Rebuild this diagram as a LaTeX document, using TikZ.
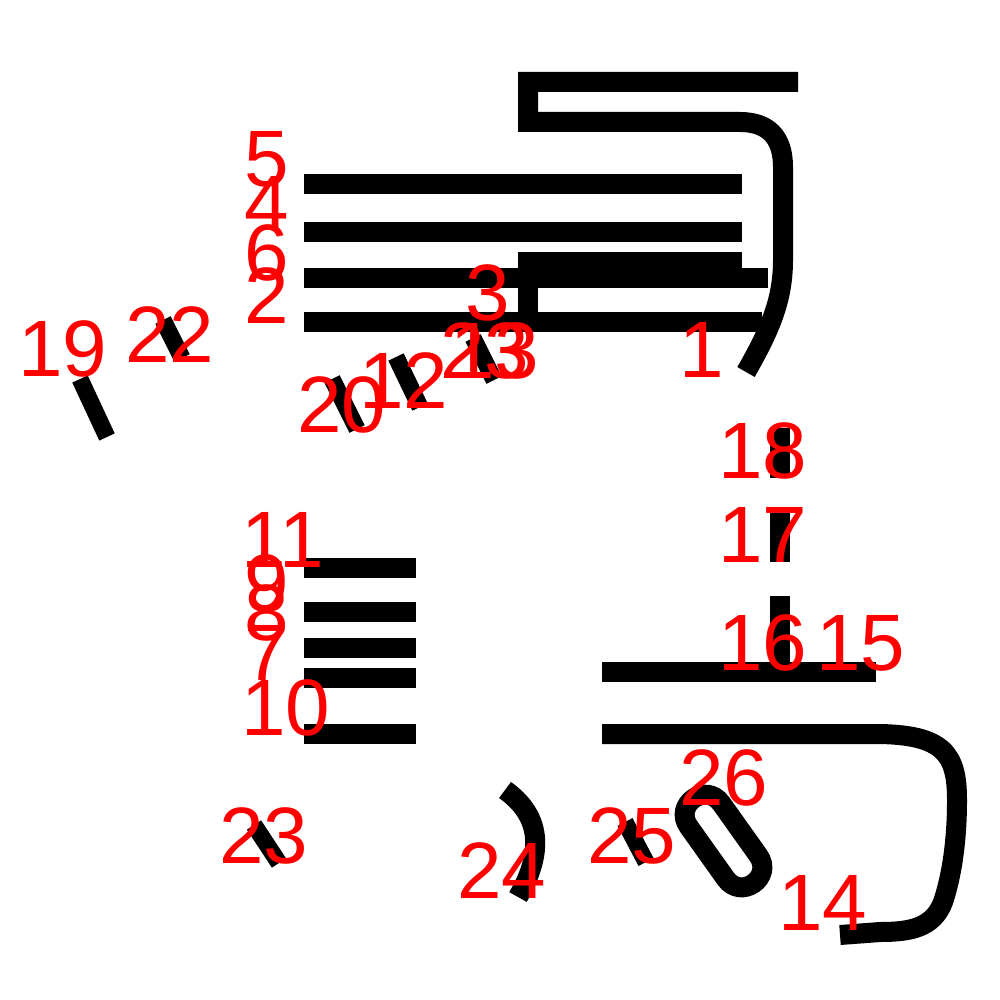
\documentclass[tikz,border=0pt]{standalone}
\usepackage{fontspec}
\setmainfont{Liberation Sans}
\begin{document}
\begin{tikzpicture}[x=1pt,y=-1pt,
  stroke/.style={line width=20pt, draw=black},
  short/.style={line width=17pt, draw=black},
  lbl/.style={text=red, font=\fontsize{80}{80}\selectfont, anchor=base west, inner sep=0pt, outer sep=0pt}]
\fill[white] (0,0) rectangle (1000,1000);
\useasboundingbox (0,0) rectangle (1000,1000);
% top hook shape
\draw[stroke] (798,82) -- (528,82) -- (528,122) -- (740,122)
  .. controls (768,122) and (783,137) .. (783,167) -- (783,260)
  .. controls (783,300) and (770,330) .. (746,372);
% upper bars
\draw[stroke] (304,184) -- (742,184);
\draw[stroke] (304,232) -- (742,232);
\draw[stroke] (304,278) -- (768,278);
\draw[stroke] (304,322) -- (762,322);
\draw[stroke] (742,262) -- (528,262) -- (528,322);
% lower-left bars
\foreach \yy in {568,612,648,678,734} \draw[stroke] (304,\yy) -- (416,\yy);
% right part
\draw[stroke] (780,428) -- (780,478);
\draw[stroke] (780,513) -- (780,562);
\draw[stroke] (780,596) -- (780,667);
\draw[stroke] (602,672) -- (876,672);
\draw[stroke] (602,734) -- (875,734)
  .. controls (945,734) and (957,755) .. (957,800)
  .. controls (957,840) and (952,875) .. (943,902)
  .. controls (933,928) and (910,932) .. (880,932) -- (840,935);
% capsule
\draw[stroke] (721.3,803.4) -- (758.3,855.4)
  .. controls (773.8,877.2) and (741.2,900.4) .. (725.7,878.6)
  -- (688.7,826.6)
  .. controls (673.2,804.8) and (705.8,781.6) .. cycle;
% arc 24
\draw[stroke] (505,790) .. controls (540,815) and (545,850) .. (518,897);
% short strokes
\draw[short] (80,379) -- (107,437);
\draw[short] (163,320) -- (182,358);
\draw[short] (332,379) -- (357,429);
\draw[short] (396,357) -- (420,407);
\draw[short] (473,338) -- (494,380);
\draw[short] (254,825) -- (279,863);
\draw[short] (625,822) -- (646,862);
% labels
\node[lbl] (l5)  at (244,187) {5};
\node[lbl] (l4)  at (244,232) {4};
\node[lbl] (l6)  at (244,280) {6};
\node[lbl] (l2)  at (244,323) {2};
\node[lbl] (l3)  at (465,320) {3};
\node[lbl] (l23a) at (440,378) {23};
\node[lbl] (l13) at (450,378) {13};
\node[lbl] (l12) at (359,408) {12};
\node[lbl] (l20) at (297,432) {20};
\node[lbl] (l19) at (18,376) {19};
\node[lbl] (l22) at (125,362) {22};
\node[lbl] (l1)  at (679,377) {1};
\node[lbl] (l18) at (718,478) {18};
\node[lbl] (l17) at (718,562) {17};
\node[lbl] (l16) at (718,670) {16};
\node[lbl] (l15) at (816,670) {15};
\node[lbl] (l11) at (241,567) {11};
\node[lbl] (l9)  at (244,610) {9};
\node[lbl] (l8)  at (244,640) {8};
\node[lbl] (l7)  at (244,680) {7};
\node[lbl] (l10) at (241,735) {10};
\node[lbl] (l26) at (679,805) {26};
\node[lbl] (l25) at (587,863) {25};
\node[lbl] (l14) at (778,930) {14};
\node[lbl] (l23b) at (219,863) {23};
\node[lbl] (l24) at (457,898) {24};
\end{tikzpicture}
\end{document}
